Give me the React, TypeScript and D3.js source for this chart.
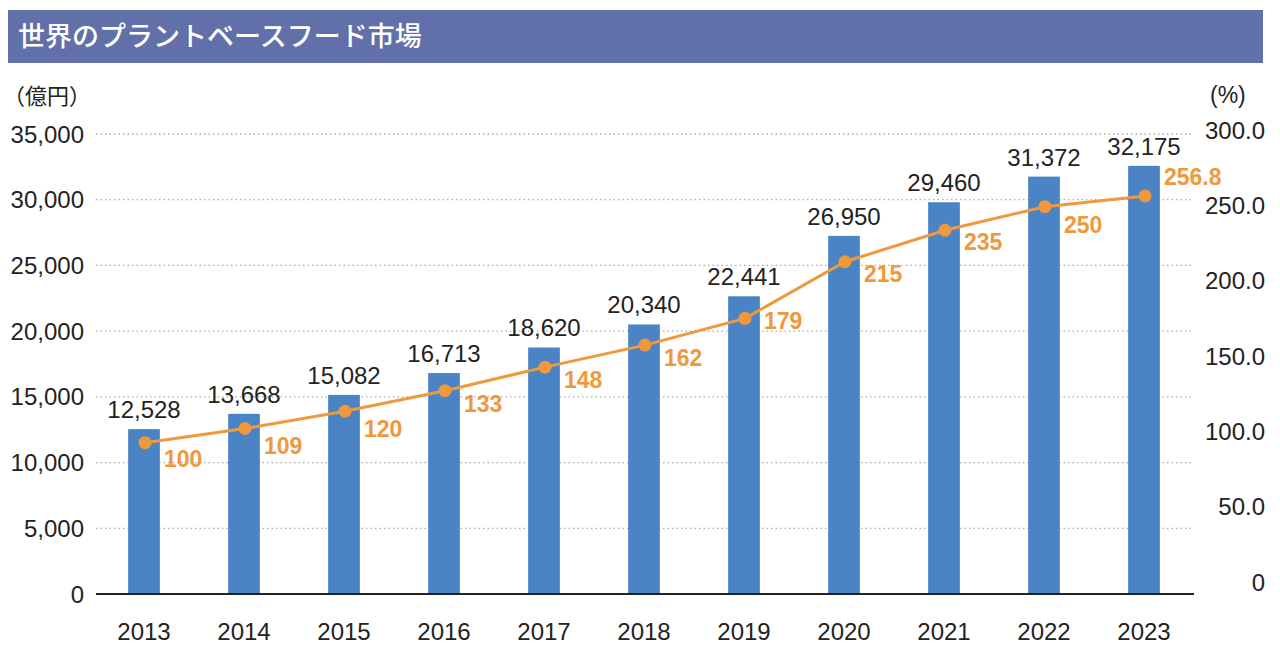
import React from "react";
import * as d3 from "d3";

const years = ["2013","2014","2015","2016","2017","2018","2019","2020","2021","2022","2023"];
const marketValues = [12528,13668,15082,16713,18620,20340,22441,26950,29460,31372,32175];
const indexValues = [100,109,120,133,148,162,179,215,235,250,256.8];
const indexLabels = ["100","109","120","133","148","162","179","215","235","250","256.8"];
const leftTicks = [0,5000,10000,15000,20000,25000,30000,35000];
const rightTicks = [0,50,100,150,200,250,300];

const W = 1280, H = 654;
const FONT = "'Liberation Sans', Arial, Helvetica, sans-serif";
const CJK = "'Noto Sans CJK JP', sans-serif";
const BLUE = "#4a84c4";
const ORANGE = "#ef983c";
const TEXT = "#222";

// layout nudges for the index labels (vertical offset of label centre from its point)
const labelNudge = [16, 17, 18, 13, 13, 13, 3, 12, 12, 18, -19];

export default function App() {
  const BASE = 594;
  const x = d3.scaleBand<string>().domain(years).range([94, 1194]).paddingInner(0.683).paddingOuter(0.3415);
  const yGrid = d3.scaleLinear().domain([0, 35000]).range([BASE, 134]);
  const yBar = d3.scaleLinear().domain([0, 35000]).range([597, 128]);
  const yLine = d3.scaleLinear().domain([0, 300]).range([600, 128]);
  const yRLabel = d3.scaleLinear().domain([0, 300]).range([582, 130]);
  const fmt = d3.format(",");
  const cx = (y: string) => (x(y) as number) + x.bandwidth() / 2;
  const line = d3.line<number>().x((_, i) => cx(years[i]) + 1).y(d => yLine(d));

  return (
    <svg width={W} height={H} style={{ position: "absolute", left: 0, top: 0, display: "block" }}>
      <rect x={0} y={0} width={W} height={H} fill="#fff" />
      <rect x={8} y={10} width={1255} height={53} fill="#6170a8" />
      <text x={18} y={46} fill="#fff" fontSize={27} fontFamily={CJK} fontWeight={500}>世界のプラントベースフード市場</text>

      <text x={3} y={104} fontSize={22} fill={TEXT} fontFamily={CJK}>（億円）</text>
      <text x={1210} y={103} fontSize={23} fill={TEXT} fontFamily={FONT}>(%)</text>

      {leftTicks.filter(t => t > 0).map(t => (
        <line key={"g" + t} x1={96} x2={1194} y1={yGrid(t)} y2={yGrid(t)} stroke="#aaa" strokeWidth={1.3} strokeDasharray="1.5 3" />
      ))}

      {leftTicks.map(t => (
        <text key={"l" + t} x={84} y={yGrid(t) + 8.5} textAnchor="end" fontSize={24} fill={TEXT} fontFamily={FONT}>{fmt(t)}</text>
      ))}
      {rightTicks.map(t => (
        <text key={"r" + t} x={1265} y={yRLabel(t) + 8.5} textAnchor="end" fontSize={24} fill={TEXT} fontFamily={FONT}>{t === 0 ? "0" : t.toFixed(1)}</text>
      ))}

      {years.map((y, i) => (
        <rect key={"b" + y} x={x(y)} y={yBar(marketValues[i])} width={x.bandwidth()} height={BASE - yBar(marketValues[i])} fill={BLUE} />
      ))}

      <line x1={96} x2={1194} y1={BASE} y2={BASE} stroke="#222" strokeWidth={1.8} />

      {years.map((y, i) => (
        <text key={"v" + y} x={cx(y)} y={yBar(marketValues[i]) - 11} textAnchor="middle" fontSize={24} fill={TEXT} fontFamily={FONT}>{fmt(marketValues[i])}</text>
      ))}

      <path d={line(indexValues) || ""} fill="none" stroke={ORANGE} strokeWidth={3} />
      {years.map((y, i) => (
        <circle key={"c" + y} cx={cx(y) + 1} cy={yLine(indexValues[i])} r={6.5} fill={ORANGE} />
      ))}
      {years.map((y, i) => (
        <text key={"i" + y} x={cx(y) + 20} y={yLine(indexValues[i]) + labelNudge[i] + 8} fontSize={23} fontWeight="bold" fill={ORANGE} fontFamily={FONT}>{indexLabels[i]}</text>
      ))}

      {years.map(y => (
        <text key={"x" + y} x={cx(y)} y={640} textAnchor="middle" fontSize={24} fill={TEXT} fontFamily={FONT}>{y}</text>
      ))}
    </svg>
  );
}
